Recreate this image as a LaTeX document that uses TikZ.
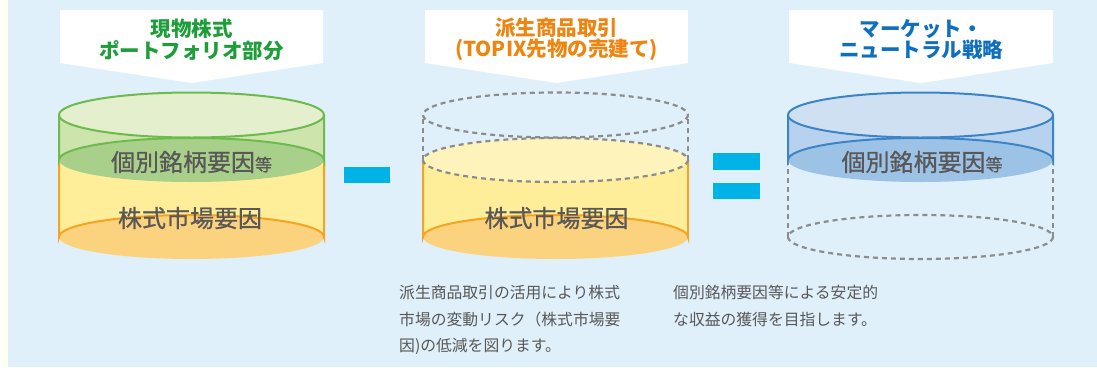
\documentclass[tikz,border=0pt]{standalone}
\usepackage{fontspec}
\newfontfamily\jp{Noto Sans CJK JP}
\newfontfamily\jpm{Noto Sans CJK JP}[FakeBold=0.7]
\definecolor{bgblue}{HTML}{DFF0FA}
\definecolor{strip}{HTML}{FFFFF6}
\definecolor{txtgray}{HTML}{595757}
\definecolor{gline}{HTML}{6DBB4E}
\definecolor{gtop}{HTML}{E3EFCD}
\definecolor{gside}{HTML}{CDE4AC}
\definecolor{gbot}{HTML}{A8D08A}
\definecolor{ylside}{HTML}{FFEE99}
\definecolor{yltop}{HTML}{FFF3BC}
\definecolor{orbot}{HTML}{FBD37E}
\definecolor{orline}{HTML}{F5A323}
\definecolor{bline}{HTML}{3D84C6}
\definecolor{btop}{HTML}{CFE0F2}
\definecolor{bside}{HTML}{B7D2EE}
\definecolor{bbot}{HTML}{9CC2E6}
\definecolor{dgray}{HTML}{8C8C8C}
\definecolor{opcyan}{HTML}{00B3E6}
\definecolor{tgreen}{HTML}{1E9E3A}
\definecolor{torange}{HTML}{EE8510}
\definecolor{tblue}{HTML}{0F6FBF}
\tikzset{
  dashline/.style={draw=dgray, line width=2.2pt, dash pattern=on 5pt off 4pt},
  bigtxt/.style={text=txtgray, font=\jpm\fontsize{24}{28}\selectfont, inner sep=0pt},
  bantxt/.style={font=\jp\bfseries\fontsize{20.5}{21.5}\selectfont, align=center, inner sep=0pt},
  paratxt/.style={text=txtgray, font=\jp\fontsize{15.8}{26.5}\selectfont, align=left, inner sep=0pt},
  opbar/.style={fill=opcyan, draw=none}
}
\begin{document}
\begin{tikzpicture}[x=1pt,y=-1pt]
\useasboundingbox (0,0) rectangle (1097,367);
\fill[strip] (0,0) rectangle (8,367);
\fill[bgblue] (8,0) rectangle (1097,367);

% banners
\fill[white] (60,10) -- (323,10) -- (323,63) -- (191.5,83) -- (60,63) -- cycle;
\fill[white] (425,10) -- (688,10) -- (688,63) -- (556.5,83) -- (425,63) -- cycle;
\fill[white] (789,10) -- (1053,10) -- (1053,63) -- (921,83) -- (789,63) -- cycle;
\node[bantxt, text=tgreen] (b1) at (191.5,39.5) {現物株式\\ポートフォリオ部分};
\node[bantxt, text=torange] (b2) at (556.5,39.5) {派生商品取引\\(TOPIX先物の売建て)};
\node[bantxt, text=tblue] (b3) at (921,39.5) {マーケット・\\ニュートラル戦略};

% cylinder 1
\fill[ylside] (59,160) rectangle (324,237);
\fill[orbot] (191.5,237) ellipse [x radius=132.5, y radius=22];
\draw[orline, line width=2pt] (59,160) -- (59,237) arc[start angle=180, end angle=360, x radius=132.5, y radius=22] -- (324,160);
\fill[gside] (59,115) rectangle (324,160);
\fill[gbot] (191.5,160) ellipse [x radius=132.5, y radius=22];
\draw[gline, line width=2pt] (59,115) -- (59,160) arc[start angle=180, end angle=360, x radius=132.5, y radius=22] -- (324,115);
\draw[gline, line width=2pt, fill=gtop] (191.5,115) ellipse [x radius=132.5, y radius=22.5];
\node[bigtxt] (c1a) at (191.5,162) {個別銘柄要因{\fontsize{17}{20}\selectfont 等}};
\node[bigtxt] (c1b) at (190,218) {株式市場要因};

% minus
\fill[opbar] (344,167) rectangle (390,183);

% cylinder 2
\fill[ylside] (423,160) rectangle (688,237);
\fill[orbot] (555.5,237) ellipse [x radius=132.5, y radius=22];
\draw[orline, line width=2pt] (423,160) -- (423,237) arc[start angle=180, end angle=360, x radius=132.5, y radius=22] -- (688,160);
\fill[yltop] (555.5,160) ellipse [x radius=132.5, y radius=22];
\draw[dashline] (555.5,160) ellipse [x radius=132.5, y radius=22];
\draw[dashline] (423,160) -- (423,115);
\draw[dashline] (688,160) -- (688,115);
\draw[dashline] (555.5,115) ellipse [x radius=132.5, y radius=22.5];
\node[bigtxt] (c2b) at (556.5,218) {株式市場要因};

% equals
\fill[opbar] (713,153) rectangle (760,170);
\fill[opbar] (713,183) rectangle (760,199);

% cylinder 3
\draw[dashline] (788,160) -- (788,237);
\draw[dashline] (1053,160) -- (1053,237);
\draw[dashline] (920.5,237) ellipse [x radius=132.5, y radius=22];
\fill[bside] (788,115) rectangle (1053,160);
\fill[bbot] (920.5,160) ellipse [x radius=132.5, y radius=22];
\draw[bline, line width=2pt] (788,115) -- (788,160) arc[start angle=180, end angle=360, x radius=132.5, y radius=22] -- (1053,115);
\draw[bline, line width=2pt, fill=btop] (920.5,115) ellipse [x radius=132.5, y radius=22.5];
\node[bigtxt] (c3a) at (922,162) {個別銘柄要因{\fontsize{17}{20}\selectfont 等}};

% paragraphs
\node[paratxt, anchor=north west] (p1) at (399,285) {派生商品取引の活用により株式\\市場の変動リスク（株式市場要\\因)の低減を図ります。};
\node[paratxt, anchor=north west] (p2) at (673,285) {個別銘柄要因等による安定的\\な収益の獲得を目指します。};
\end{tikzpicture}
\end{document}
